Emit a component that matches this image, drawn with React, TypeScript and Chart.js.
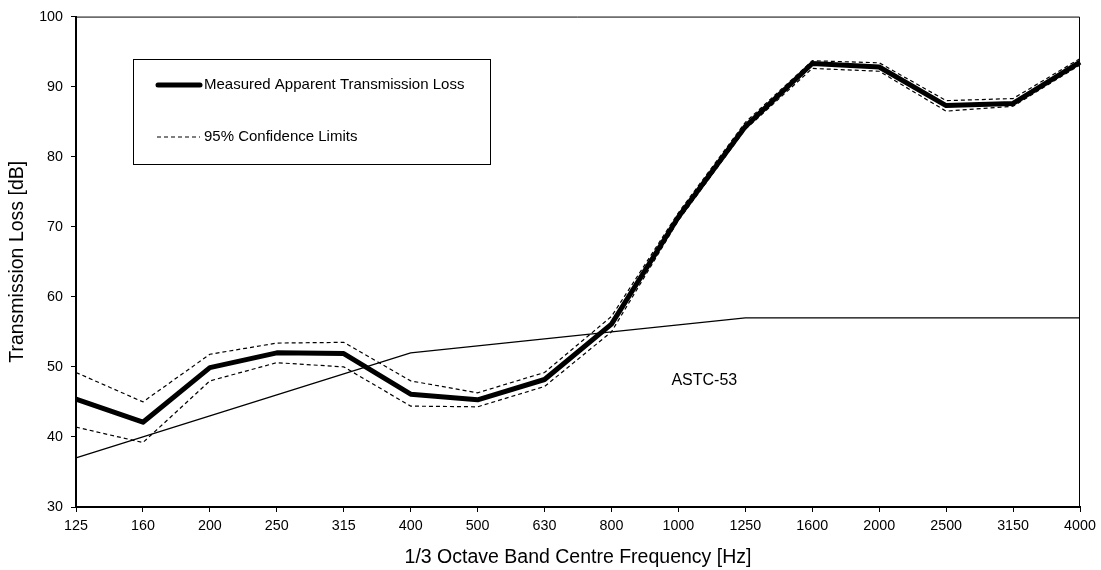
import { useEffect, useRef } from "react";
import Chart from "chart.js/auto";

const bands = ["125", "160", "200", "250", "315", "400", "500", "630", "800", "1000", "1250", "1600", "2000", "2500", "3150", "4000"];
const measured = [45.4, 42.1, 49.9, 52.0, 51.9, 46.1, 45.3, 48.2, 56.1, 71.4, 84.3, 93.3, 92.8, 87.3, 87.6, 93.5];
const upperLimit = [49.2, 45.0, 51.8, 53.4, 53.5, 48.0, 46.3, 49.2, 57.2, 72.0, 84.9, 93.7, 93.4, 88.0, 88.3, 94.0];
const lowerLimit = [41.4, 39.2, 48.0, 50.6, 50.0, 44.4, 44.3, 47.2, 55.0, 70.9, 83.9, 92.6, 92.2, 86.5, 87.2, 93.1];
const astc53 = [37, 40, 43, 46, 49, 52, 53, 54, 55, 56, 57, 57, 57, 57, 57, 57];

const FONT = "'Liberation Sans', Arial, sans-serif";

// plot frame, legend box and the ASTC-53 label
const extras = {
  id: "extras",
  afterDraw(chart: any) {
    const { ctx, chartArea: a, scales } = chart;
    ctx.save();
    ctx.strokeStyle = "#000";
    ctx.lineWidth = 1;
    ctx.beginPath();
    ctx.moveTo(a.left, a.top + 0.5);
    ctx.lineTo(a.right - 0.5, a.top + 0.5);
    ctx.lineTo(a.right - 0.5, a.bottom);
    ctx.stroke();

    // legend
    ctx.fillStyle = "#fff";
    ctx.fillRect(133.5, 59.5, 357, 105);
    ctx.strokeRect(133.5, 59.5, 357, 105);
    ctx.lineWidth = 5;
    ctx.lineCap = "round";
    ctx.beginPath();
    ctx.moveTo(158, 85);
    ctx.lineTo(200, 85);
    ctx.stroke();
    ctx.lineCap = "butt";
    ctx.lineWidth = 1.2;
    ctx.setLineDash([4, 3]);
    ctx.beginPath();
    ctx.moveTo(157, 137);
    ctx.lineTo(200, 137);
    ctx.stroke();
    ctx.setLineDash([]);
    ctx.fillStyle = "#000";
    ctx.font = `15px ${FONT}`;
    ctx.textBaseline = "middle";
    ctx.textAlign = "left";
    ctx.fillText("Measured Apparent Transmission Loss", 204, 85);
    ctx.fillText("95% Confidence Limits", 204, 137);

    ctx.font = `16px ${FONT}`;
    const x = scales.x.getPixelForValue(9) - 7;
    const y = scales.y.getPixelForValue(48.1);
    ctx.fillText("ASTC-53", x, y);
    ctx.restore();
  },
};

export default function App() {
  const ref = useRef<HTMLCanvasElement | null>(null);

  useEffect(() => {
    if (!ref.current) return;
    const tickFont = { family: FONT, size: 14.3 };
    const titleFont = { family: FONT, size: 19.5, lineHeight: 1.2 };
    const dashed = {
      borderColor: "#000",
      borderWidth: 1.2,
      borderDash: [4, 3],
      pointRadius: 0,
      tension: 0,
    };
    const c = new Chart(ref.current, {
      type: "line",
      data: {
        labels: bands,
        datasets: [
          { label: "ASTC-53", data: astc53, borderColor: "#000", borderWidth: 1.3, pointRadius: 0, tension: 0 },
          { label: "95% Confidence Limits", data: upperLimit, ...dashed },
          { label: "95% Confidence Limits (lower)", data: lowerLimit, ...dashed },
          { label: "Measured Apparent Transmission Loss", data: measured, borderColor: "#000", borderWidth: 5, borderJoinStyle: "round", pointRadius: 0, tension: 0 },
        ],
      },
      options: {
        responsive: false,
        animation: false,
        devicePixelRatio: 1,
        layout: { padding: { left: 0, top: 16, right: 21, bottom: 0 } },
        plugins: { legend: { display: false }, tooltip: { enabled: false } },
        scales: {
          x: {
            type: "category",
            offset: false,
            afterFit: (s: any) => { s.height = 63; },
            grid: { drawOnChartArea: false, drawTicks: true, tickLength: 5, color: "#000", offset: false },
            border: { color: "#000", width: 2 },
            ticks: { color: "#000", font: tickFont, padding: 5, maxRotation: 0, autoSkip: false },
            title: { display: true, text: "1/3 Octave Band Centre Frequency [Hz]", color: "#000", font: titleFont, padding: { top: 0, bottom: 0.3 } },
          },
          y: {
            min: 30,
            max: 100,
            afterFit: (s: any) => { s.width = 76; },
            grid: { drawOnChartArea: false, drawTicks: true, tickLength: 5, color: "#000" },
            border: { color: "#000", width: 2 },
            ticks: { color: "#000", font: tickFont, padding: 8, stepSize: 10 },
            title: { display: true, text: "Transmission Loss [dB]", color: "#000", font: titleFont, padding: { top: 6.3, bottom: 0 } },
          },
        },
      },
      plugins: [extras],
    });
    return () => c.destroy();
  }, []);

  return (
    <div style={{ position: "absolute", left: 0, top: 0, width: 1101, height: 570, background: "#fff" }}>
      <canvas ref={ref} width={1101} height={570} />
    </div>
  );
}
